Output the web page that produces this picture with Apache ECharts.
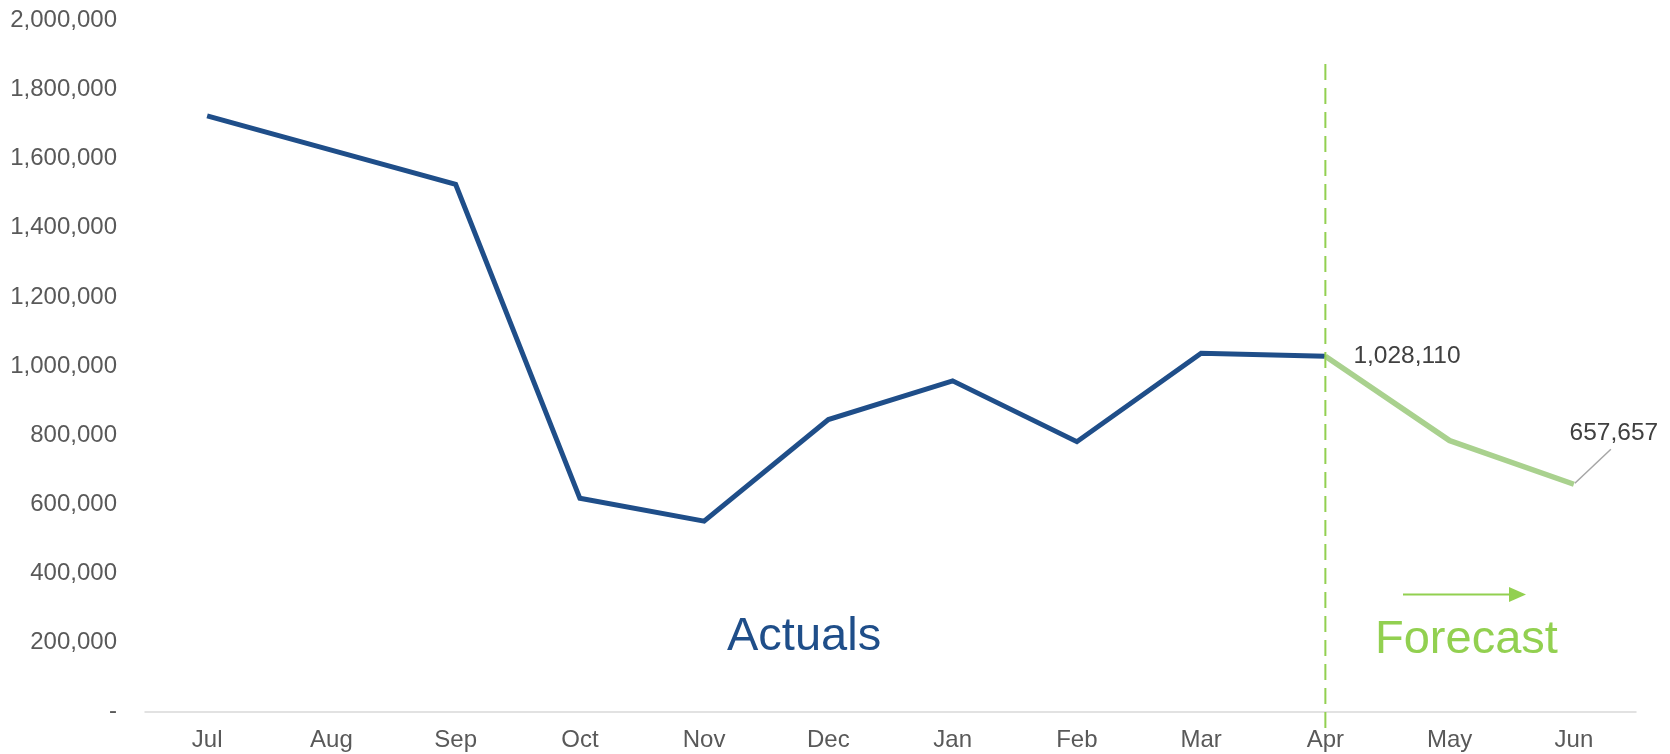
<!DOCTYPE html>
<html>
<head>
<meta charset="utf-8">
<script src="https://cdn.jsdelivr.net/npm/echarts@6/dist/echarts.min.js"></script>
<style>
html,body{margin:0;padding:0;background:#fff;}
#chart{width:1670px;height:754px;}
</style>
</head>
<body>
<div id="chart"></div>
<script>
const categories = ['Jul','Aug','Sep','Oct','Nov','Dec','Jan','Feb','Mar','Apr','May','Jun'];
const actuals = [1724000, 1625000, 1526000, 617000, 551000, 845000, 957000, 781000, 1037000, 1028110, null, null];
const forecast = [null, null, null, null, null, null, null, null, null, 1028110, 784000, 657657];
const yTicks = { min: 0, max: 2000000, interval: 200000 };
const dividerCategory = 'Apr';
const dividerRange = [1874000, -68000];
const labelledIdx = [9, 11];

(function () {
const FONT = '"Liberation Sans", Arial, Helvetica, sans-serif';
const chart = echarts.init(document.getElementById('chart'), null, {renderer: 'canvas'});

const fmt = v => v === 0 ? '-' : v.toLocaleString('en-US');

const baseGraphic = [
  { type: 'text', left: 727, top: 614, style: { text: 'Actuals', fill: '#1F4E89', fontSize: 47, fontFamily: FONT } },
  { type: 'text', left: 1375, top: 617, style: { text: 'Forecast', fill: '#92D050', fontSize: 47, fontFamily: FONT } },
  { type: 'line', shape: { x1: 1403, y1: 594.5, x2: 1512, y2: 594.5 }, style: { stroke: '#92D050', lineWidth: 2 } },
  { type: 'polygon', shape: { points: [[1509, 587], [1526, 594.5], [1509, 602]] }, style: { fill: '#92D050' } }
];

chart.setOption({
  animation: false,
  backgroundColor: '#ffffff',
  grid: { left: 145, right: 34, top: 20.5, bottom: 42.5, containLabel: false, outerBoundsMode: 'none' },
  xAxis: {
    type: 'category',
    data: categories,
    boundaryGap: true,
    axisLine: { show: true, lineStyle: { color: '#d9d9d9', width: 1.5 } },
    axisTick: { show: false },
    axisLabel: { color: '#595959', fontSize: 24, fontFamily: FONT, margin: 17 },
    splitLine: { show: false }
  },
  yAxis: {
    type: 'value',
    min: yTicks.min, max: yTicks.max, interval: yTicks.interval,
    axisLine: { show: false },
    axisTick: { show: false },
    splitLine: { show: false },
    axisLabel: { color: '#595959', fontSize: 24, fontFamily: FONT, margin: 28, formatter: fmt }
  },
  series: [
    {
      name: 'Actuals',
      type: 'line',
      data: actuals,
      symbol: 'none',
      connectNulls: false,
      lineStyle: { color: '#1F4E89', width: 5, cap: 'butt', join: 'miter' },
      z: 3
    },
    {
      name: 'Forecast',
      type: 'line',
      clip: false,
      data: forecast.map((v, i) => {
        if (v === null) return null;
        if (i === labelledIdx[0]) {
          return { value: v, label: { show: true, position: 'right', distance: 27, formatter: p => fmt(p.value) } };
        }
        if (i === labelledIdx[1]) {
          return { value: v, label: { show: true, position: 'top', distance: 5, formatter: p => fmt(p.value) } };
        }
        return v;
      }),
      labelLayout: function (params) {
        if (params.dataIndex === labelledIdx[1]) {
          return { dx: 40, dy: -33 };
        }
        return {};
      },
      symbol: 'circle',
      symbolSize: 2,
      showSymbol: true,
      itemStyle: { color: 'rgba(0,0,0,0)' },
      label: { show: false, color: '#404040', fontSize: 24.5, fontFamily: FONT },
      lineStyle: { color: '#A9D18E', width: 5.5 },
      z: 4
    }
  ],
  graphic: baseGraphic
});

// Divider and leader line positioned through the chart's own scales
const pTop = chart.convertToPixel({ gridIndex: 0 }, [dividerCategory, dividerRange[0]]);
const pBot = chart.convertToPixel({ gridIndex: 0 }, [dividerCategory, dividerRange[1]]);
const pJun = chart.convertToPixel({ gridIndex: 0 }, [categories[labelledIdx[1]], forecast[labelledIdx[1]]]);
chart.setOption({
  graphic: baseGraphic.concat([
    { type: 'line', z: 10, shape: { x1: pTop[0], y1: pTop[1], x2: pBot[0], y2: pBot[1] },
      style: { stroke: '#92D050', lineWidth: 2, lineDash: [16, 8] } },
    { type: 'line', z: 10, shape: { x1: pJun[0] + 1, y1: pJun[1] - 1, x2: pJun[0] + 37, y2: pJun[1] - 35 },
      style: { stroke: '#a6a6a6', lineWidth: 1.5 } }
  ])
}, { replaceMerge: ['graphic'] });
})();
</script>
</body>
</html>
